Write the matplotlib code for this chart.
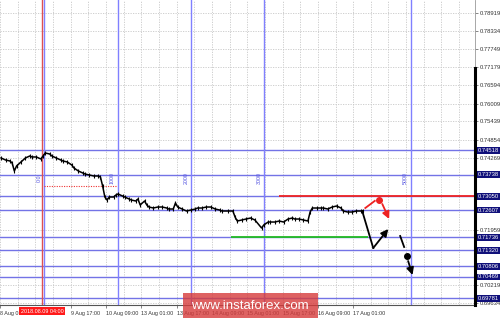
import matplotlib
matplotlib.use("Agg")
import matplotlib.pyplot as plt
from matplotlib.patches import Rectangle

plt.rcParams["font.family"] = ["Liberation Sans", "DejaVu Sans"]

# hourly bar index vs close price
bar_idx = [0, 2, 4, 5, 6, 7, 9, 11, 13, 14, 16, 18, 19, 20, 22, 23, 25, 27, 28, 30,
           32, 33, 35, 37, 38, 40, 42, 44, 45, 46, 47, 48, 49, 51, 52, 53, 55, 56, 58, 59,
           61, 62, 63, 65, 66, 67, 69, 71, 73, 75, 76, 78, 79, 80, 82, 84, 86, 88, 89, 91,
           93, 95, 97, 99, 100, 103, 105, 106, 107, 109, 111, 113, 115, 118, 119, 121, 122, 124, 126, 128,
           130, 132, 133, 135, 137, 139, 140, 141, 143, 145, 146, 148, 150, 152, 154, 155, 157, 159, 161, 163, 164]
close = [0.74272, 0.74208, 0.74176, 0.74112, 0.73856, 0.74017, 0.74144, 0.74272, 0.74336, 0.74304,
         0.74304, 0.74240, 0.74336, 0.74431, 0.74400, 0.74336, 0.74272, 0.74208, 0.74176, 0.74144,
         0.74049, 0.73952, 0.73856, 0.73792, 0.73760, 0.73728, 0.73696, 0.73696, 0.73664, 0.73376,
         0.73024, 0.72928, 0.73024, 0.73024, 0.73088, 0.73120, 0.73056, 0.73024, 0.72960, 0.72928,
         0.72896, 0.72960, 0.72769, 0.72896, 0.72769, 0.72704, 0.72672, 0.72704, 0.72704, 0.72672,
         0.72640, 0.72640, 0.72833, 0.72704, 0.72640, 0.72576, 0.72608, 0.72640, 0.72672, 0.72672,
         0.72704, 0.72704, 0.72640, 0.72608, 0.72576, 0.72576, 0.72576, 0.72384, 0.72256, 0.72288,
         0.72320, 0.72352, 0.72288, 0.72033, 0.72129, 0.72224, 0.72224, 0.72224, 0.72256, 0.72224,
         0.72320, 0.72352, 0.72320, 0.72320, 0.72288, 0.72256, 0.72544, 0.72672, 0.72672, 0.72672,
         0.72672, 0.72640, 0.72704, 0.72736, 0.72672, 0.72576, 0.72544, 0.72544, 0.72576, 0.72576, 0.72576]

# grid price ticks (grey) and marked levels (boxed)
grid_prices = [0.78919, 0.78334, 0.77749, 0.77179, 0.76594, 0.76009, 0.75439, 0.74854,
               0.74269, 0.71959, 0.70219, 0.69634]
level_prices = [0.74518, 0.73738, 0.73050, 0.72607, 0.71736, 0.71320, 0.70806, 0.70469, 0.69781]

# time axis labels
date_idx = [-0.5, 31.5, 47.5, 63.5, 79.5, 95.5, 111.5, 127.5, 143.5, 159.5]
date_labels = ["8 Aug 09:00", "9 Aug 17:00", "10 Aug 09:00", "13 Aug 01:00",
               "13 Aug 17:00", "14 Aug 09:00", "15 Aug 01:00", "15 Aug 17:00",
               "16 Aug 09:00", "17 Aug 01:00"]
cursor_idx = 18.5
cursor_label = "2018.08.09 04:00"

# fibonacci time zones
fib_start = 19.6
fib_step = 33.2
fib_levels = [0, 1, 2, 3, 5]
fib_labels = ["0.0", "1000", "2000", "3000", "5000"]

# drawn lines / forecast marks
resist_price, resist_from = 0.73050, 126
support_price, support_from, support_to = 0.71736, 104, 166
dotted_price, dotted_from, dotted_to = 0.73386, 19.4, 52
path_main_x = [163.6, 168.6]
path_main_y = [0.72576, 0.71393]
arrow_up = (168.6, 0.71393, 175.4, 0.72001)
red_seg_x = [165.0, 169.3]
red_seg_y = [0.72672, 0.72900]
red_dot = (171.2, 0.72928)
red_arrow = (172.7, 0.72800, 175.8, 0.72320)
blk_seg_x = [180.8, 182.6]
blk_seg_y = [0.71777, 0.71425]
blk_dot = (184.0, 0.71137)
blk_arrow = (184.4, 0.70977, 186.4, 0.70530)

x_max = 214.7
y_lo, y_hi = 0.69570, 0.79325
fs = 4.2

fig = plt.figure(figsize=(5, 3.18), dpi=100)
ax = fig.add_axes([0, 13 / 318, 475 / 500, 305 / 318])
ax.set_xlim(0, x_max)
ax.set_ylim(y_lo, y_hi)

# dotted grid
for p in grid_prices:
    ax.axhline(p, color="#c8c8c8", lw=0.6, ls=(0, (1.5, 1.5)), zorder=0)
gx = -0.5
while gx < x_max:
    ax.axvline(gx, color="#c8c8c8", lw=0.6, ls=(0, (1.5, 1.5)), zorder=0)
    gx += 8

blue = "#7373e6"
for p in level_prices:
    ax.axhline(p, color=blue, lw=1.0, zorder=1)

ax.axvline(cursor_idx, color="#e05050", lw=1.0, zorder=1)
for lv, lab in zip(fib_levels, fib_labels):
    xv = fib_start + lv * fib_step
    ax.axvline(xv, color="#8080ff", lw=1.0, zorder=1)
    ax.text(xv - 1.2, 0.73620, lab, rotation=90, color="#5050e0", fontsize=3.8,
            ha="right", va="center")

# price
ax.plot(bar_idx, close, color="black", lw=1.1, zorder=3)
ax.plot(bar_idx, close, ls="none", marker="|", ms=2.5, mew=0.8, color="black", zorder=3)

ax.hlines(resist_price, resist_from, x_max, color="#ee2222", lw=1.3, zorder=2)
ax.hlines(support_price, support_from, support_to, color="#22bb22", lw=1.3, zorder=2)
ax.hlines(dotted_price, dotted_from, dotted_to, color="#ee3333", lw=0.8,
          ls=(0, (1, 1.2)), zorder=2)

# forecast
arrow_kw = dict(arrowstyle="-|>,head_length=0.6,head_width=0.3", lw=1.3, mutation_scale=7,
                shrinkA=0, shrinkB=0)
ax.plot(path_main_x, path_main_y, color="black", lw=1.3, zorder=4)
ax.annotate("", xy=arrow_up[2:], xytext=arrow_up[:2],
            arrowprops=dict(color="black", **arrow_kw))
ax.plot(red_seg_x, red_seg_y, color="#ee2222", lw=1.3, zorder=4)
ax.plot(*red_dot, "o", color="#ee2222", ms=4, zorder=5)
ax.annotate("", xy=red_arrow[2:], xytext=red_arrow[:2],
            arrowprops=dict(color="#ee2222", **arrow_kw))
ax.plot(blk_seg_x, blk_seg_y, color="black", lw=1.3, zorder=4)
ax.plot(*blk_dot, "o", color="black", ms=4, zorder=5)
ax.annotate("", xy=blk_arrow[2:], xytext=blk_arrow[:2],
            arrowprops=dict(color="black", **arrow_kw))

# axes frame
for s in ["left", "top"]:
    ax.spines[s].set_visible(False)
ax.spines["bottom"].set_color("#555555")
ax.spines["bottom"].set_linewidth(0.8)
ax.spines["right"].set_color("#999999")
ax.spines["right"].set_linewidth(0.6)
ax.axvline(x_max, ymin=0, ymax=1 - 68 / 305, color="black", lw=2.2, clip_on=False, zorder=6)

ax.yaxis.tick_right()
ax.set_yticks(grid_prices)
ax.set_yticklabels([f"{p:.5f}" for p in grid_prices])
ax.tick_params(axis="y", labelsize=fs, labelcolor="#333333", length=2, width=0.5, pad=1.2,
               color="#555555")
ax.set_xticks(date_idx)
ax.set_xticklabels(date_labels)
ax.tick_params(axis="x", labelsize=3.9, labelcolor="#333333", length=2, width=0.5, pad=2.2,
               color="#555555")
for t in ax.get_xticklabels():
    t.set_horizontalalignment("left")

tr = ax.get_yaxis_transform()
for p in level_prices:
    ax.text(1.006, p, f"{p:.5f}", transform=tr, fontsize=fs, color="white", va="center",
            ha="left", zorder=10, clip_on=False,
            bbox=dict(boxstyle="square,pad=0.15", fc="#10107a", ec="none"))

ax.text(cursor_idx, -0.012, cursor_label, transform=ax.get_xaxis_transform(),
        fontsize=3.9, color="white", ha="center", va="top", zorder=10, clip_on=False,
        bbox=dict(boxstyle="square,pad=0.25", fc="#ff1a1a", ec="none"))

# watermark
fig.patches.append(Rectangle((183 / 500, 0), 135 / 500, 25 / 318, transform=fig.transFigure,
                             fc="#d63b3b", alpha=0.8, ec="none", zorder=20))
fig.text(250 / 500, 12 / 318, "www.instaforex.com", color="white", fontsize=9.5,
         ha="center", va="center", zorder=21)

fig.savefig("out.png", dpi=100)
